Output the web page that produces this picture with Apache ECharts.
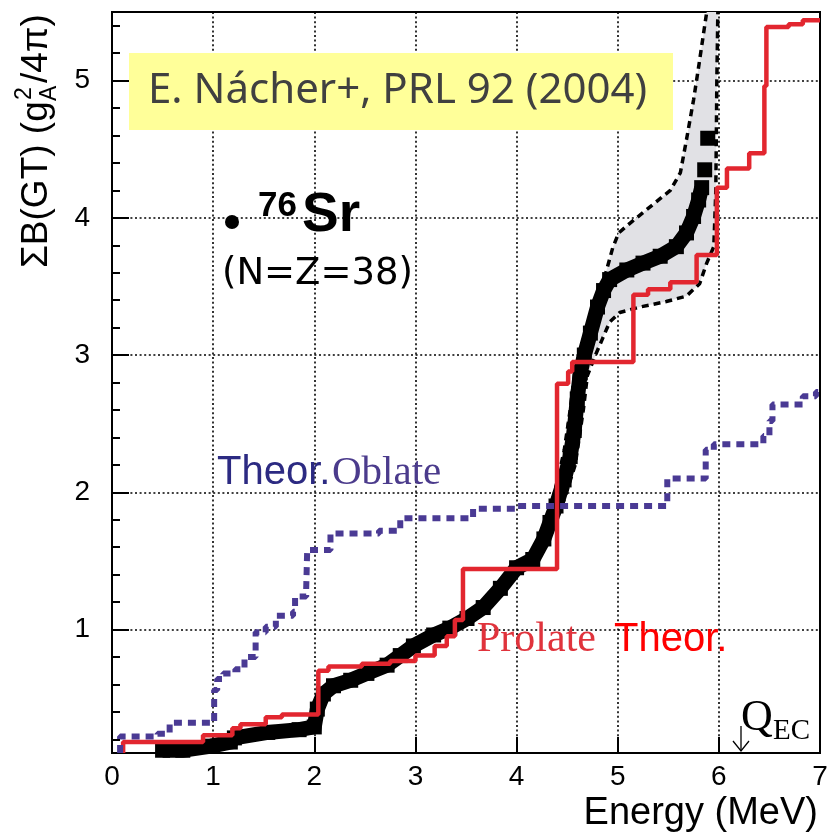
<!DOCTYPE html>
<html><head><meta charset="utf-8">
<script src="https://cdn.jsdelivr.net/npm/echarts@6/dist/echarts.min.js"></script>
<style>html,body{margin:0;padding:0;background:#fff}#c{width:836px;height:836px}</style>
</head><body><div id="c"></div>
<script>
// ---- data ----
const energyTicks = [0, 1, 2, 3, 4, 5, 6, 7];
const bgtTicks = [1, 2, 3, 4, 5];
const bgtMinorTicks = [0.2, 0.4, 0.6, 0.8, 1.2, 1.4, 1.6, 1.8, 2.2, 2.4, 2.6, 2.8,
  3.2, 3.4, 3.6, 3.8, 4.2, 4.4, 4.6, 4.8, 5.2, 5.4];

// experimental cumulative B(GT) (thick black squares)
const expMain = [[0.50,0.12],[0.70,0.12],[0.98,0.15],[1.17,0.18],[1.21,0.21],[1.54,0.25],
  [1.85,0.27],[2.00,0.29],[2.03,0.42],[2.09,0.53],[2.19,0.59],[2.36,0.63],[2.52,0.68],
  [2.72,0.74],[2.85,0.81],[2.98,0.88],[3.18,0.96],[3.34,1.01],[3.51,1.08],[3.67,1.16],
  [3.84,1.30],[4.00,1.45],[4.16,1.51],[4.27,1.66],[4.33,1.78],[4.39,1.90],[4.47,2.09],
  [4.53,2.26],[4.57,2.45],[4.60,2.68],[4.63,2.87],[4.67,3.00],[4.73,3.16],[4.80,3.35],
  [4.86,3.47],[4.92,3.55],[5.09,3.62],[5.25,3.67],[5.42,3.72],[5.58,3.79],[5.68,3.89],
  [5.75,4.01],[5.80,4.13],[5.83,4.22]];
const expTail = [[5.86,4.35],[5.89,4.58]];

// error band boundaries
const bandUpper = [[4.36,1.95],[4.47,2.30],[4.53,2.60],[4.58,2.90],[4.66,3.10],[4.73,3.20],
  [4.81,3.40],[4.89,3.62],[4.95,3.78],[5.01,3.89],[5.12,3.96],[5.32,4.08],[5.52,4.20],
  [5.62,4.33],[5.68,4.57],[5.75,4.86],[5.80,5.10],[5.85,5.35],[5.88,5.50]];
const bandLower = [[4.45,1.90],[4.58,2.20],[4.66,2.60],[4.70,2.85],[4.78,3.00],[4.85,3.12],
  [4.92,3.24],[5.02,3.31],[5.22,3.35],[5.48,3.39],[5.68,3.43],[5.81,3.52],[5.88,3.67],
  [5.95,3.79],[5.96,3.99],[5.97,4.20],[5.98,5.00],[5.99,5.50]];

// theory, prolate (red step)
const prolate = [[0.11,0.10],[0.11,0.18],[0.90,0.23],[1.19,0.28],[1.27,0.31],[1.52,0.36],
  [1.68,0.38],[2.04,0.70],[2.14,0.73],[2.47,0.75],[2.75,0.77],[3.00,0.81],[3.19,0.88],
  [3.31,0.95],[3.39,1.07],[3.47,1.44],[4.40,2.79],[4.51,2.88],[4.55,2.95],[5.155,3.44],
  [5.30,3.48],[5.52,3.53],[5.78,3.73],[5.98,4.22],[6.08,4.36],[6.30,4.47],[6.45,4.96],
  [6.47,5.39],[6.69,5.41],[6.83,5.44],[7.00,5.44]];

// theory, oblate (navy dotted step)
const oblate = [[0.08,0.10],[0.08,0.22],[0.45,0.24],[0.57,0.32],[1.01,0.56],[1.04,0.64],
  [1.10,0.68],[1.22,0.71],[1.31,0.80],[1.42,0.98],[1.52,1.02],[1.62,1.10],[1.79,1.13],
  [1.81,1.24],[1.92,1.30],[1.93,1.58],[2.16,1.70],[2.64,1.72],[2.85,1.81],[3.57,1.88],
  [3.99,1.90],[5.49,2.10],[5.87,2.31],[5.95,2.35],[6.44,2.41],[6.50,2.52],[6.53,2.64],
  [6.83,2.70],[6.96,2.73],[7.00,2.73]];

// ---- chart ----
const SANS = '"Liberation Sans", Arial, sans-serif';
const SERIF = '"Liberation Serif", "Times New Roman", serif';
const chart = echarts.init(document.getElementById('c'), null, {renderer: 'canvas'});
const gridLine = {show: true, lineStyle: {color: '#000', width: 1.6, type: [2, 2.6]}};

chart.setOption({
  animation: false,
  backgroundColor: '#fff',
  grid: {left: 112, right: 16, top: 12, bottom: 83, show: true, borderColor: '#000', borderWidth: 2},
  xAxis: {
    type: 'value', min: energyTicks[0], max: energyTicks[energyTicks.length - 1], interval: 1,
    axisLine: {show: true, lineStyle: {color: '#000', width: 2}},
    axisTick: {show: true, inside: true, length: 16, lineStyle: {color: '#000', width: 2}},
    axisLabel: {color: '#000', fontSize: 28, fontFamily: SANS, margin: 10},
    splitLine: gridLine
  },
  yAxis: [{
    type: 'value', min: 0.1, max: 5.5,
    axisLine: {show: true, lineStyle: {color: '#000', width: 2}},
    axisTick: {show: true, inside: true, length: 17, customValues: bgtTicks, lineStyle: {color: '#000', width: 2}},
    axisLabel: {color: '#000', fontSize: 28, fontFamily: SANS, margin: 22, customValues: bgtTicks},
    splitLine: gridLine
  }, {
    type: 'value', min: 0.1, max: 5.5, position: 'left',
    axisLine: {show: false},
    axisTick: {show: true, inside: true, length: 8, customValues: bgtMinorTicks, lineStyle: {color: '#000', width: 2}},
    axisLabel: {show: false},
    splitLine: {show: false}
  }],
  series: [
    {
      type: 'custom', coordinateSystem: 'cartesian2d', silent: true, z: 1,
      data: [[5, 4]],
      renderItem: function (params, api) {
        const pts = bandUpper.map(p => api.coord(p))
          .concat(bandLower.slice().reverse().map(p => api.coord(p)));
        return {type: 'polygon', shape: {points: pts}, style: {fill: '#e1e1e5'}};
      }
    },
    {type: 'line', data: bandUpper, symbol: 'none', z: 2, silent: true,
      lineStyle: {color: '#000', width: 3.5, type: [7, 5]}},
    {type: 'line', data: bandLower, symbol: 'none', z: 2, silent: true,
      lineStyle: {color: '#000', width: 3.5, type: [7, 5]}},
    {type: 'line', data: expMain, symbol: 'rect', symbolSize: 15, z: 3, silent: true,
      itemStyle: {color: '#000', opacity: 1}, lineStyle: {color: '#000', width: 15, join: 'miter'}},
    {type: 'scatter', data: expTail, symbol: 'rect', symbolSize: 15, z: 3, silent: true,
      itemStyle: {color: '#000', opacity: 1}},
    {type: 'line', step: 'end', data: prolate, symbol: 'none', z: 4, silent: true,
      lineStyle: {color: '#e2262f', width: 4.5}},
    {type: 'line', step: 'end', data: oblate, symbol: 'none', z: 5, silent: true,
      lineStyle: {color: '#4a3a94', width: 6, type: [8, 6]}}
  ],
  graphic: {elements: [
    {type: 'rect', z: 100, shape: {x: 129, y: 53, width: 544, height: 77}, style: {fill: '#ffff99'}},
    {type: 'text', z: 101, x: 148, y: 91, style: {text: 'E. Nácher+, PRL 92 (2004)', fontSize: 42,
      fontFamily: '"Noto Sans", sans-serif', fill: '#404040', align: 'left', verticalAlign: 'middle'}},
    {type: 'circle', z: 101, shape: {cx: 232, cy: 222, r: 7}, style: {fill: '#000'}},
    {type: 'text', z: 101, x: 258, y: 206, style: {text: '76', fontSize: 35, fontWeight: 'bold',
      fontFamily: SANS, fill: '#000', align: 'left', verticalAlign: 'middle'}},
    {type: 'text', z: 101, x: 302, y: 216, style: {text: 'Sr', fontSize: 55, fontWeight: 'bold',
      fontFamily: SANS, fill: '#000', align: 'left', verticalAlign: 'middle'}},
    {type: 'text', z: 101, x: 222, y: 274, style: {text: '(N=Z=38)', fontSize: 37,
      fontFamily: '"DejaVu Sans", sans-serif', fill: '#000', align: 'left', verticalAlign: 'middle'}},
    {type: 'text', z: 101, x: 217, y: 473, style: {text: 'Theor.', fontSize: 40,
      fontFamily: SANS, fill: '#2c2a82', align: 'left', verticalAlign: 'middle'}},
    {type: 'text', z: 101, x: 332, y: 473, style: {text: 'Oblate', fontSize: 41,
      fontFamily: SERIF, fill: '#4b3b8c', align: 'left', verticalAlign: 'middle'}},
    {type: 'text', z: 101, x: 477, y: 640, style: {text: 'Prolate', fontSize: 42,
      fontFamily: SERIF, fill: '#e0333c', align: 'left', verticalAlign: 'middle'}},
    {type: 'text', z: 101, x: 614, y: 640, style: {text: 'Theor.', fontSize: 40,
      fontFamily: SANS, fill: '#ff0000', align: 'left', verticalAlign: 'middle'}},
    {type: 'text', z: 101, x: 741, y: 718, style: {text: 'Q', fontSize: 44,
      fontFamily: SERIF, fill: '#000', align: 'left', verticalAlign: 'middle'}},
    {type: 'text', z: 101, x: 773, y: 731, style: {text: 'EC', fontSize: 29,
      fontFamily: SERIF, fill: '#000', align: 'left', verticalAlign: 'middle'}},
    {type: 'polyline', z: 101, shape: {points: [[741, 726], [741, 751]]}, style: {stroke: '#000', lineWidth: 1.3}},
    {type: 'polyline', z: 101, shape: {points: [[733, 741], [741, 751], [749, 741]]}, style: {stroke: '#000', lineWidth: 1.3, fill: null}},
    {type: 'text', z: 101, x: 818, y: 814, style: {text: 'Energy (MeV)', fontSize: 38,
      fontFamily: SANS, fill: '#000', align: 'right', verticalAlign: 'middle'}},
    {type: 'group', z: 101, x: 37, y: 268, rotation: Math.PI / 2, children: [
      {type: 'text', x: 0, y: 0, style: {text: 'ΣB(GT) (g', fontSize: 37, fontFamily: SANS,
        fill: '#000', align: 'left', verticalAlign: 'middle'}},
      {type: 'text', x: 168, y: -12, style: {text: '2', fontSize: 23, fontFamily: SANS,
        fill: '#000', align: 'left', verticalAlign: 'middle'}},
      {type: 'text', x: 167, y: 13, style: {text: 'A', fontSize: 23, fontFamily: SANS,
        fill: '#000', align: 'left', verticalAlign: 'middle'}},
      {type: 'text', x: 185, y: 0, style: {text: '/4π)', fontSize: 37, fontFamily: SANS,
        fill: '#000', align: 'left', verticalAlign: 'middle'}}
    ]}
  ]}
});
</script>
</body></html>
